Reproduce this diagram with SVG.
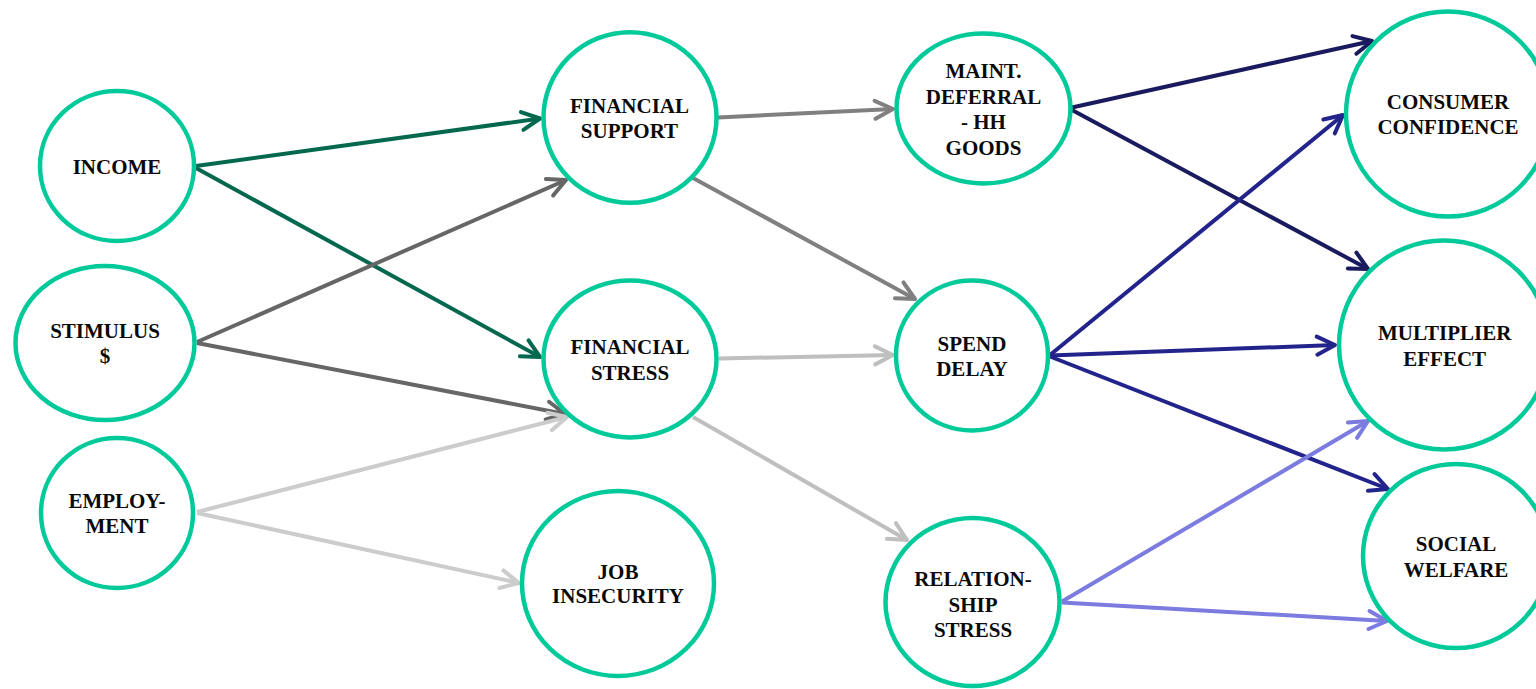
<svg xmlns="http://www.w3.org/2000/svg" width="1536" height="689" viewBox="0 0 1536 689">
<style>
.node ellipse{fill:#fff;stroke:#00c99a;stroke-width:4.5}
.node text{font-family:"Liberation Serif","Times New Roman",serif;font-weight:bold;font-size:21px;fill:#0a0a0a;text-anchor:middle}
.edge{fill:none;stroke-width:4}
.mk{fill:none;stroke-width:4;stroke-linecap:round;stroke-linejoin:round}
</style>
<defs>
<marker id="m-g" markerUnits="userSpaceOnUse" orient="auto" refX="0" refY="0" markerWidth="40" markerHeight="40" overflow="visible"><path class="mk" stroke="#04684f" d="M-18,-9 L0,0 L-18,9"/></marker>
<marker id="m-d" markerUnits="userSpaceOnUse" orient="auto" refX="0" refY="0" markerWidth="40" markerHeight="40" overflow="visible"><path class="mk" stroke="#666666" d="M-18,-9 L0,0 L-18,9"/></marker>
<marker id="m-l" markerUnits="userSpaceOnUse" orient="auto" refX="0" refY="0" markerWidth="40" markerHeight="40" overflow="visible"><path class="mk" stroke="#cccccc" d="M-18,-9 L0,0 L-18,9"/></marker>
<marker id="m-m" markerUnits="userSpaceOnUse" orient="auto" refX="0" refY="0" markerWidth="40" markerHeight="40" overflow="visible"><path class="mk" stroke="#808080" d="M-18,-9 L0,0 L-18,9"/></marker>
<marker id="m-s" markerUnits="userSpaceOnUse" orient="auto" refX="0" refY="0" markerWidth="40" markerHeight="40" overflow="visible"><path class="mk" stroke="#bfbfbf" d="M-18,-9 L0,0 L-18,9"/></marker>
<marker id="m-n" markerUnits="userSpaceOnUse" orient="auto" refX="0" refY="0" markerWidth="40" markerHeight="40" overflow="visible"><path class="mk" stroke="#1a1a5e" d="M-18,-9 L0,0 L-18,9"/></marker>
<marker id="m-b" markerUnits="userSpaceOnUse" orient="auto" refX="0" refY="0" markerWidth="40" markerHeight="40" overflow="visible"><path class="mk" stroke="#23238c" d="M-18,-9 L0,0 L-18,9"/></marker>
<marker id="m-p" markerUnits="userSpaceOnUse" orient="auto" refX="0" refY="0" markerWidth="40" markerHeight="40" overflow="visible"><path class="mk" stroke="#7b7be0" d="M-18,-9 L0,0 L-18,9"/></marker>
</defs>
<g id="connectors">
<line class="edge" stroke="#04684f" marker-end="url(#m-g)" x1="196" y1="166" x2="540" y2="118.5"/>
<line class="edge" stroke="#04684f" marker-end="url(#m-g)" x1="196" y1="168" x2="540" y2="357"/>
<line class="edge" stroke="#666666" marker-end="url(#m-d)" x1="197" y1="342" x2="566" y2="180"/>
<line class="edge" stroke="#666666" marker-end="url(#m-d)" x1="197" y1="343" x2="565" y2="414"/>
<line class="edge" stroke="#cccccc" marker-end="url(#m-l)" x1="197" y1="512" x2="567" y2="417"/>
<line class="edge" stroke="#cccccc" marker-end="url(#m-l)" x1="197" y1="513" x2="519" y2="583"/>
<line class="edge" stroke="#808080" marker-end="url(#m-m)" x1="718" y1="117.5" x2="893" y2="109"/>
<line class="edge" stroke="#808080" marker-end="url(#m-m)" x1="693" y1="178" x2="915" y2="299"/>
<line class="edge" stroke="#bfbfbf" marker-end="url(#m-s)" x1="719" y1="358.5" x2="893" y2="355"/>
<line class="edge" stroke="#bfbfbf" marker-end="url(#m-s)" x1="693" y1="417" x2="907" y2="540"/>
<line class="edge" stroke="#1a1a5e" marker-end="url(#m-n)" x1="1072" y1="107.5" x2="1372" y2="41"/>
<line class="edge" stroke="#1a1a5e" marker-end="url(#m-n)" x1="1072" y1="110" x2="1368" y2="269"/>
<line class="edge" stroke="#23238c" marker-end="url(#m-b)" x1="1050" y1="355" x2="1343" y2="115"/>
<line class="edge" stroke="#23238c" marker-end="url(#m-b)" x1="1050" y1="355.5" x2="1335" y2="345"/>
<line class="edge" stroke="#23238c" marker-end="url(#m-b)" x1="1050" y1="356.5" x2="1388" y2="489"/>
<line class="edge" stroke="#7b7be0" marker-end="url(#m-p)" x1="1062" y1="601.5" x2="1368" y2="421"/>
<line class="edge" stroke="#7b7be0" marker-end="url(#m-p)" x1="1062" y1="602.5" x2="1387" y2="621"/>
</g>
<g id="income" class="node"><ellipse cx="117" cy="166" rx="77" ry="75"/><text x="117" y="174">INCOME</text></g>
<g id="stimulus" class="node"><ellipse cx="105" cy="343" rx="89.5" ry="77"/><text x="105" y="337.7">STIMULUS</text><text x="105" y="363">$</text></g>
<g id="employment" class="node"><ellipse cx="117" cy="513" rx="76" ry="75"/><text x="117" y="508.3">EMPLOY-</text><text x="117" y="533.3">MENT</text></g>
<g id="financial-support" class="node"><ellipse cx="630" cy="117.5" rx="86.5" ry="85.3"/><text x="629.5" y="113.3">FINANCIAL</text><text x="629.5" y="138.3">SUPPORT</text></g>
<g id="financial-stress" class="node"><ellipse cx="630" cy="359" rx="86.5" ry="78.5"/><text x="630" y="353.8">FINANCIAL</text><text x="630" y="379.5">STRESS</text></g>
<g id="job-insecurity" class="node"><ellipse cx="618" cy="583.5" rx="96" ry="92.5"/><text x="618" y="579">JOB</text><text x="618" y="603.3">INSECURITY</text></g>
<g id="maint-deferral" class="node"><ellipse cx="983.5" cy="108.5" rx="87" ry="75"/><text x="983.5" y="78.3">MAINT.</text><text x="983.5" y="104">DEFERRAL</text><text x="983.5" y="129.3">- HH</text><text x="983.5" y="155">GOODS</text></g>
<g id="spend-delay" class="node"><ellipse cx="972" cy="355.5" rx="76" ry="75"/><text x="972" y="350.7">SPEND</text><text x="972" y="376">DELAY</text></g>
<g id="relationship-stress" class="node"><ellipse cx="972.5" cy="602" rx="87" ry="84"/><text x="973" y="586">RELATION-</text><text x="973" y="611.7">SHIP</text><text x="973" y="636.7">STRESS</text></g>
<g id="consumer-confidence" class="node"><ellipse cx="1448" cy="114" rx="102" ry="102.5"/><text x="1448" y="109">CONSUMER</text><text x="1448" y="134.3">CONFIDENCE</text></g>
<g id="multiplier-effect" class="node"><ellipse cx="1444" cy="345" rx="105" ry="104.5"/><text x="1444.7" y="340">MULTIPLIER</text><text x="1444.7" y="366">EFFECT</text></g>
<g id="social-welfare" class="node"><ellipse cx="1456" cy="556" rx="93" ry="92"/><text x="1456" y="550.7">SOCIAL</text><text x="1456" y="576.7">WELFARE</text></g>
</svg>
